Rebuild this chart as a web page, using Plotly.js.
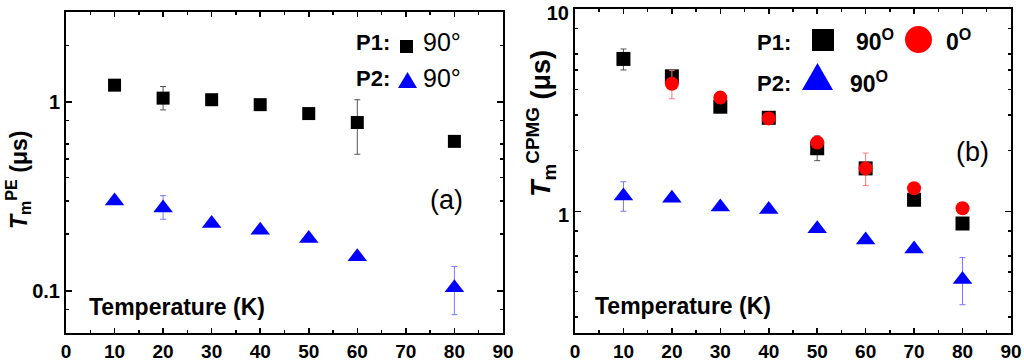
<!DOCTYPE html>
<html>
<head>
<meta charset="utf-8">
<script src="https://cdn.plot.ly/plotly-3.0.1.min.js"></script>
<style>html,body{margin:0;padding:0;background:#fff;}#chart{width:1024px;height:362px;}</style>
</head>
<body>
<div id="chart"></div>
<script>
// ---------- data ----------
// Panel (a): Tm(PE)
var tempA_P1 = [10, 20, 30, 40, 50, 60, 80];
var tmPE_P1 = [1.23, 1.05, 1.03, 0.97, 0.87, 0.78, 0.62];
var tmPE_P1_hi = [null, 1.21, null, null, null, 1.03, null];
var tmPE_P1_lo = [null, 0.91, null, null, null, 0.53, null];

var tempA_P2 = [10, 20, 30, 40, 50, 60, 80];
var tmPE_P2 = [0.30, 0.275, 0.228, 0.21, 0.19, 0.152, 0.104];
var tmPE_P2_hi = [null, 0.32, null, null, null, null, 0.135];
var tmPE_P2_lo = [null, 0.24, null, null, null, null, 0.075];

// Panel (b): Tm(CPMG)
var tempB = [10, 20, 30, 40, 50, 60, 70, 80];
var tmCP_P1_90 = [5.67, 4.65, 3.29, 2.9, 2.05, 1.63, 1.14, 0.87];
var tmCP_P1_90_hi = [6.35, null, null, null, 2.36, null, null, null];
var tmCP_P1_90_lo = [5.0, null, null, null, 1.78, null, null, null];

var tempB_0 = [20, 30, 40, 50, 60, 70, 80];
var tmCP_P1_0 = [4.27, 3.65, 2.88, 2.19, 1.63, 1.30, 1.035];
var tmCP_P1_0_hi = [4.98, null, null, null, 1.94, null, null];
var tmCP_P1_0_lo = [3.6, null, null, null, 1.34, null, null];

var tmCP_P2_90 = [1.19, 1.16, 1.05, 1.02, 0.82, 0.72, 0.65, 0.46];
var tmCP_P2_90_hi = [1.40, null, null, null, null, null, null, 0.59];
var tmCP_P2_90_lo = [1.0, null, null, null, null, null, null, 0.345];

var xTickVals = [0, 10, 20, 30, 40, 50, 60, 70, 80, 90];
var xMinorVals = [5, 15, 25, 35, 45, 55, 65, 75, 85];
var yTickValsA = [0.1, 1];
var yTickTextA = ['0.1', '1'];
var yMinorValsA = [0.08, 0.2, 0.3, 0.4, 0.5, 0.6, 0.8, 2];
var yTickValsB = [1, 10];
var yTickTextB = ['1', '10'];
var yMinorValsB = [0.3, 0.4, 0.5, 0.6, 0.8, 2, 3, 4, 5, 6, 8];

// ---------- helpers ----------
function plus(v, hi) { return v.map(function (d, i) { return hi[i] == null ? NaN : hi[i] - d; }); }
function minus(v, lo) { return v.map(function (d, i) { return lo[i] == null ? NaN : d - lo[i]; }); }

var FONT = 'Arial, "Liberation Sans", sans-serif';

function errBar(v, hi, lo, color) {
  return { type: 'data', symmetric: false, array: plus(v, hi), arrayminus: minus(v, lo),
           color: color, thickness: 1, width: 3 };
}

var traces = [
  { x: tempA_P1, y: tmPE_P1, xaxis: 'x', yaxis: 'y', mode: 'markers', type: 'scatter',
    marker: { symbol: 'square', size: 13, color: '#000000' },
    error_y: errBar(tmPE_P1, tmPE_P1_hi, tmPE_P1_lo, '#555555') },
  { x: tempA_P2, y: tmPE_P2, xaxis: 'x', yaxis: 'y', mode: 'markers', type: 'scatter',
    marker: { symbol: 'triangle-up', size: 17, color: '#0000ff' },
    error_y: errBar(tmPE_P2, tmPE_P2_hi, tmPE_P2_lo, '#7777ff') },
  { x: tempB, y: tmCP_P1_90, xaxis: 'x2', yaxis: 'y2', mode: 'markers', type: 'scatter',
    marker: { symbol: 'square', size: 14, color: '#000000' },
    error_y: errBar(tmCP_P1_90, tmCP_P1_90_hi, tmCP_P1_90_lo, '#555555') },
  { x: tempB_0, y: tmCP_P1_0, xaxis: 'x2', yaxis: 'y2', mode: 'markers', type: 'scatter',
    marker: { symbol: 'circle', size: 14, color: '#ff0000' },
    error_y: errBar(tmCP_P1_0, tmCP_P1_0_hi, tmCP_P1_0_lo, '#ff7777') },
  { x: tempB, y: tmCP_P2_90, xaxis: 'x2', yaxis: 'y2', mode: 'markers', type: 'scatter',
    marker: { symbol: 'triangle-up', size: 17, color: '#0000ff' },
    error_y: errBar(tmCP_P2_90, tmCP_P2_90_hi, tmCP_P2_90_lo, '#7777ff') }
];

function xAxis(domain, anchor) {
  return { domain: domain, anchor: anchor, range: [0, 90.01], showgrid: false, zeroline: false,
    showline: true, linecolor: '#000', linewidth: 2, mirror: 'ticks',
    ticks: 'inside', ticklen: 5, tickwidth: 1.5, tickcolor: '#000',
    tickmode: 'array', tickvals: xTickVals, ticklabelstandoff: 0,
    minor: { tickvals: xMinorVals, ticks: 'inside', ticklen: 3, tickwidth: 1.5, tickcolor: '#000' },
    tickfont: { family: FONT, size: 19, color: '#000', weight: 'bold' } };
}
function yAxis(domain, anchor, range, tv, tt, mv, shift) {
  return { domain: domain, anchor: anchor, type: 'log', range: range, showgrid: false, zeroline: false,
    showline: true, linecolor: '#000', linewidth: 2, mirror: 'ticks',
    ticks: 'inside', ticklen: 6, tickwidth: 1.5, tickcolor: '#000',
    tickmode: 'array', tickvals: tv, ticktext: tt, ticklabeloverflow: 'allow', ticklabelshift: shift,
    minor: { tickvals: mv, ticks: 'inside', ticklen: 3, tickwidth: 1.5, tickcolor: '#000' },
    tickfont: { family: FONT, size: 20, color: '#000', weight: 'bold' } };
}

var W = 1024, H = 362;
function px(x) { return x / W; }
function py(y) { return 1 - y / H; }

var ann = [];
function txt(x, y, t, size, bold, extra) {
  var a = { xref: 'paper', yref: 'paper', x: px(x), y: py(y), text: t, showarrow: false,
    xanchor: 'center', yanchor: 'middle',
    font: { family: FONT, size: size, color: '#000', weight: bold ? 'bold' : 'normal' } };
  if (extra) for (var k in extra) a[k] = extra[k];
  ann.push(a);
}
// y titles
txt(18, 180, '<b><i>T</i></b><sub>m</sub><sup>PE</sup> <b>(μs)</b>', 23, true, { textangle: -90 });
txt(541, 124, '<b><i>T</i></b><sub>m</sub><sup>CPMG</sup> <b>(μs)</b>', 27, true, { textangle: -90 });
// x titles inside plots
txt(87, 307, 'Temperature (K)', 23, true, { xanchor: 'left' });
txt(593, 306, 'Temperature (K)', 23, true, { xanchor: 'left' });
// panel labels
txt(446, 200, '(a)', 27, false);
txt(972, 152, '(b)', 27, false);
// legend (a)
txt(354, 43, 'P1:', 22, true, { xanchor: 'left' });
txt(421, 42, '90°', 25, false, { xanchor: 'left' });
txt(354, 79, 'P2:', 22, true, { xanchor: 'left' });
txt(421, 78, '90°', 25, false, { xanchor: 'left' });
// legend (b)
txt(755, 42, 'P1:', 22, true, { xanchor: 'left' });
txt(854, 40, '90<sup>O</sup>', 23, true, { xanchor: 'left' });
txt(944, 40, '0<sup>O</sup>', 23, true, { xanchor: 'left' });
txt(755, 84, 'P2:', 22, true, { xanchor: 'left' });
txt(848, 82, '90<sup>O</sup>', 23, true, { xanchor: 'left' });

function rect(x0, y0, x1, y1, c) {
  return { type: 'rect', xref: 'paper', yref: 'paper', x0: px(x0), x1: px(x1), y0: py(y1), y1: py(y0),
    fillcolor: c, line: { width: 0 } };
}
function circ(x0, y0, x1, y1, c) {
  return { type: 'circle', xref: 'paper', yref: 'paper', x0: px(x0), x1: px(x1), y0: py(y1), y1: py(y0),
    fillcolor: c, line: { width: 0 } };
}
function tri(x0, y0, x1, y1, c) {
  var xm = (x0 + x1) / 2;
  return { type: 'path', xref: 'paper', yref: 'paper',
    path: 'M ' + px(x0) + ' ' + py(y1) + ' L ' + px(x1) + ' ' + py(y1) + ' L ' + px(xm) + ' ' + py(y0) + ' Z',
    fillcolor: c, line: { width: 0 } };
}
var shapes = [
  rect(400, 40, 413, 53, '#000000'),
  tri(398, 72, 417, 88, '#0000ff'),
  rect(812, 29, 834, 51, '#000000'),
  circ(905, 26, 932, 53, '#ff0000'),
  tri(802, 63, 833, 90, '#0000ff')
];

var layout = {
  width: W, height: H, margin: { l: 0, r: 0, t: 0, b: 0 }, showlegend: false,
  paper_bgcolor: '#fff', plot_bgcolor: '#fff',
  xaxis: xAxis([66 / W, 503 / W], 'y'),
  yaxis: yAxis([1 - 333 / H, 1 - 12 / H], 'x', [Math.log10(0.06), Math.log10(3)], yTickValsA, yTickTextA, yMinorValsA, 0),
  xaxis2: xAxis([575 / W, 1011 / W], 'y2'),
  yaxis2: yAxis([1 - 333 / H, 1 - 9 / H], 'x2', [Math.log10(0.25), 1.0005], yTickValsB, yTickTextB, yMinorValsB, 4),
  annotations: ann, shapes: shapes
};

Plotly.newPlot('chart', traces, layout, { staticPlot: true, displayModeBar: false });
</script>
</body>
</html>
